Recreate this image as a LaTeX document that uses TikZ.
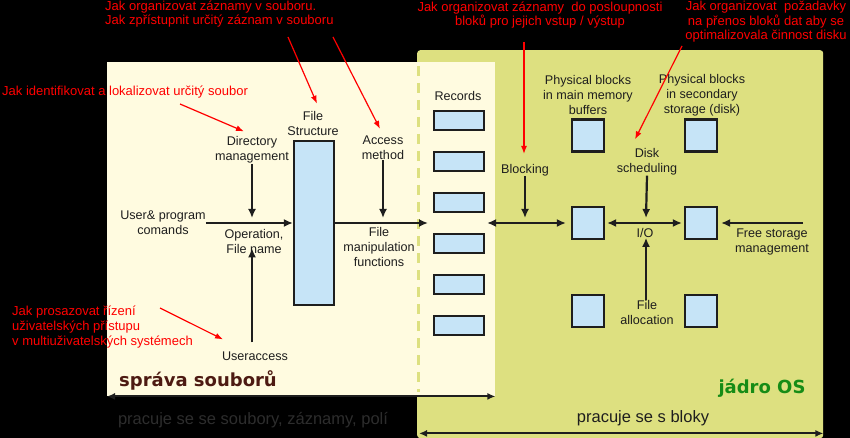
\documentclass[tikz,border=0pt]{standalone}
\usepackage{fontspec}
\setmainfont{Liberation Sans}
\newfontfamily\dejavu{DejaVu Sans}
\usetikzlibrary{arrows.meta}
\definecolor{cream}{RGB}{255,251,224}
\definecolor{osgreen}{RGB}{221,224,128}
\definecolor{boxblue}{RGB}{198,228,247}
\definecolor{ink}{RGB}{30,30,30}
\definecolor{souborbrown}{RGB}{77,26,18}
\definecolor{jadrogreen}{RGB}{22,140,22}
\definecolor{dimtext}{RGB}{45,45,45}
\tikzset{
  lbl/.style={inner sep=0pt, align=center, text=ink, font=\fontsize{12.6}{15}\selectfont},
  note/.style={inner sep=0pt, align=left, text=red, font=\fontsize{13}{14.6}\selectfont},
  title/.style={inner sep=0pt, font=\dejavu\bfseries\fontsize{18}{20}\selectfont},
  rec box/.style={draw=ink, fill=boxblue, line width=2.2pt, minimum width=50pt, minimum height=19pt, inner sep=0pt},
  blk box/.style={rec box, minimum width=32pt, minimum height=32pt},
  flow/.style={-{Latex[length=9pt,width=8pt]}, line width=2.2pt, draw=ink},
  both flow/.style={flow, {Latex[length=9pt,width=8pt]}-{Latex[length=9pt,width=8pt]}},
  hint/.style={-{Latex[length=8pt,width=6pt]}, line width=1.2pt, draw=red},
  span/.style={{Latex[length=8pt,width=7pt]}-{Latex[length=8pt,width=7pt]}, line width=2pt, draw=ink},
}

\begin{document}
\begin{tikzpicture}[x=1pt, y=-1pt]
  \fill[black] (0,0) rectangle (850,438);
  \useasboundingbox (0,0) rectangle (850,438);

  % the two areas
  \node[fill=osgreen, rounded corners=3pt, anchor=north west, minimum width=406pt,
        minimum height=388pt, inner sep=0pt] (osarea) at (417,50) {};
  \node[fill=cream, anchor=north west, minimum width=388pt, minimum height=334pt,
        inner sep=0pt] (fsarea) at (107,62) {};
  \draw[osgreen, line width=3pt, dash pattern=on 10pt off 7pt]
    ([xshift=1.5pt,yshift=-4pt]fsarea.north -| osarea.west) -- ([xshift=1.5pt,yshift=4pt]fsarea.south -| osarea.west);
  \draw[span] (fsarea.south west) -- (fsarea.south east);
  \draw[span] ([xshift=2pt,yshift=5pt]osarea.south west) -- ([yshift=5pt]osarea.south east);

  % file management side
  \node[lbl] (fslbl) at (313,123) {File\\Structure};
  \node[rec box, minimum width=40pt, minimum height=164pt] (fsbox) at (314,223) {};
  \node[lbl] (dir) at (252,150) {Directory\\management};
  \node[lbl] (usr) at (163,223) {User\& program\\comands};
  \node[lbl] (opn) at (254,241) {Operation,\\File name};
  \node[lbl] (ua) at (255,356) {Useraccess};
  \node[lbl] (acc) at (383,148) {Access\\method};
  \node[lbl] (fmf) at (379,247) {File\\manipulation\\functions};
  \node[lbl] (rec) at (458,96) {Records};
  \foreach \i in {1,...,6}
    \node[rec box] (r\i) at (459,{120.5+41*(\i-1)}) {};

  % kernel side
  \node[lbl] (blocking) at (525,170) {Blocking};
  \node[lbl] (pmm) at (588,95) {Physical blocks\\in main memory\\buffers};
  \node[lbl] (psd) at (702,95) {Physical blocks\\in secondary\\storage (disk)};
  \foreach \r/\y in {1/135.5,2/223,3/311}{
    \node[blk box] (m\r) at (588,\y) {};
    \node[blk box] (d\r) at (701,\y) {};
  }
  \node[lbl] (disk) at (647,162) {Disk\\scheduling};
  \node[lbl] (io) at (645,233) {I/O};
  \node[lbl] (fa) at (647,312) {File\\allocation};
  \node[lbl] (fsm) at (772,242) {Free storage\\management};

  \node[title, text=souborbrown] (spr) at (198,380) {správa souborů};
  \node[title, text=jadrogreen] (jadro) at (762,388) {jádro OS};
  \node[inner sep=0pt, text=dimtext, font=\fontsize{16.5}{18}\selectfont] (pfs) at (253,420) {pracuje se se soubory, záznamy, polí};
  \node[inner sep=0pt, text=ink, font=\fontsize{16.5}{18}\selectfont] (pbl) at (643,418) {pracuje se s bloky};

  % connectors
  \coordinate (dirIn) at (252,218);
  \coordinate (accIn) at (383,218);
  \coordinate (blkIn) at (525,218);
  \coordinate (dskIn) at (646,218);
  \coordinate (fmfOut) at (428,223);
  \coordinate (fsmOut) at (803,223);
  \draw[flow] (usr.east) -- (fsbox.west);
  \draw[flow] (dir.south) -- (dirIn);
  \draw[flow, shorten <=9pt, shorten >=-5pt] (ua.north -| dirIn) -- (opn.south -| dirIn);
  \draw[flow] (acc.south) -- (accIn);
  \draw[flow] (fsbox.east) -- (fmfOut);
  \draw[both flow, shorten <=2pt, shorten >=5pt] (r3.east |- m2.west) -- (m2.west);
  \draw[flow] (blocking.south) -- (blkIn);
  \draw[both flow, shorten <=2pt, shorten >=2pt] (m2.east) -- (d2.west);
  \draw[flow] (disk.south) -- (dskIn);
  \draw[flow] (fa.north -| dskIn) -- (io.south -| dskIn);
  \draw[flow, shorten >=3pt] (fsmOut) -- (d2.east);

  % red notes
  \node[note, anchor=west] (n1) at (105,14) {Jak organizovat záznamy v souboru.\\Jak zpřístupnit určitý záznam v souboru};
  \node[note, anchor=west] (n2) at (2,92) {Jak identifikovat a lokalizovat určitý soubor};
  \node[note, align=center] (n3) at (540,15) {Jak organizovat záznamy\ \ do posloupnosti\\bloků pro jejich vstup / výstup};
  \node[note, align=center] (n4) at (766,22) {Jak organizovat\ \ požadavky\\na přenos bloků dat aby se\\optimalizovala činnost disku};
  \node[note, anchor=west] (n5) at (12,327) {Jak prosazovat řízení\\uživatelských přístupu\\v multiuživatelských systémech};
  \coordinate (n1a) at (288,37);
  \coordinate (n1b) at (333,37);
  \coordinate (n2a) at (180,104);
  \coordinate (n3a) at (524,42);
  \coordinate (n4a) at (682,46);
  \coordinate (n5a) at (160,308);
  \draw[hint] (n1a) -- ([xshift=4pt,yshift=7pt]fslbl.north);
  \draw[hint] (n1b) -- ([xshift=-3pt,yshift=7pt]acc.north);
  \draw[hint] (n2a) -- ([xshift=-8pt,yshift=5pt]dir.north);
  \draw[hint] (n3a) -- ([xshift=-1pt,yshift=10pt]blocking.north);
  \draw[hint] (n4a) -- ([xshift=-12pt,yshift=9pt]disk.north);
  \draw[hint] (n5a) -- ([xshift=-32pt,yshift=12pt]ua.north);
\end{tikzpicture}
\end{document}
